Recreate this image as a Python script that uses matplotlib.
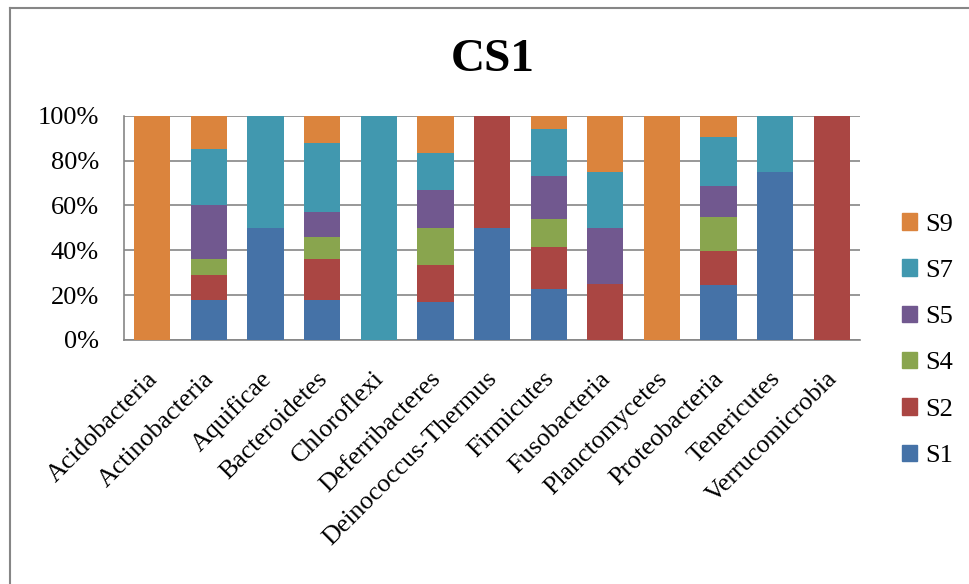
import matplotlib.pyplot as plt
import numpy as np
from matplotlib.lines import Line2D
from matplotlib.patches import Patch
from matplotlib.transforms import ScaledTranslation

categories = ["Acidobacteria", "Actinobacteria", "Aquificae", "Bacteroidetes",
              "Chloroflexi", "Deferribacteres", "Deinococcus-Thermus",
              "Firmicutes", "Fusobacteria", "Planctomycetes", "Proteobacteria",
              "Tenericutes", "Verrucomicrobia"]

s1 = [0, 18, 50, 18, 0, 16.7, 50, 22.5, 0, 0, 24.5, 75, 0]
s2 = [0, 11, 0, 18, 0, 16.7, 50, 19, 25, 0, 15, 0, 100]
s4 = [0, 7, 0, 10, 0, 16.6, 0, 12.5, 0, 0, 15.5, 0, 0]
s5 = [0, 24, 0, 11, 0, 16.7, 0, 19, 25, 0, 13.5, 0, 0]
s7 = [0, 25, 50, 31, 100, 16.7, 0, 21, 25, 0, 22, 25, 0]
s9 = [100, 15, 0, 12, 0, 16.6, 0, 6, 25, 100, 9.5, 0, 0]

series_names = ["S1", "S2", "S4", "S5", "S7", "S9"]
colors = ["#4572A7", "#AA4643", "#89A54E", "#71588F", "#4198AF", "#DB843D"]

plt.rcParams["font.family"] = ["Liberation Serif", "DejaVu Serif"]

fig = plt.figure(figsize=(9.69, 5.84), dpi=100)
ax = fig.add_axes([0.128, 0.418, 0.7595, 0.3836])

x = np.arange(len(categories))
bottom = np.zeros(len(categories))
for name, vals, c in zip(series_names, [s1, s2, s4, s5, s7, s9], colors):
    vals = np.array(vals, dtype=float)
    ax.bar(x, vals, width=0.64, bottom=bottom, color=c, label=name, zorder=3)
    bottom += vals

ax.set_xlim(-0.5, len(categories) - 0.5)
ax.set_ylim(0, 100)
ax.set_yticks(np.arange(0, 101, 20))
ax.set_yticklabels([f"{v}%" for v in range(0, 101, 20)], fontsize=19)
ax.yaxis.grid(True, color="#868686", linewidth=1.2, zorder=0)
ax.tick_params(axis="y", length=0, pad=18)
ax.tick_params(axis="x", length=0, pad=20)
ax.set_xticks(x)
ax.set_xticklabels(categories, rotation=45, ha="right", va="top",
                   rotation_mode="anchor", fontsize=18.7)
shift = ScaledTranslation(-0.06, 0, fig.dpi_scale_trans)
for lbl in ax.get_xticklabels():
    lbl.set_transform(lbl.get_transform() + shift)

for side in ["top", "right"]:
    ax.spines[side].set_visible(False)
for side in ["left", "bottom"]:
    ax.spines[side].set_color("#868686")
    ax.spines[side].set_linewidth(1.2)

fig.text(0.509, 0.898, "CS1", ha="center", va="center",
         fontsize=34, fontweight="bold")

handles = [Patch(color=c, label=n) for n, c in zip(series_names, colors)][::-1]
fig.legend(handles=handles, loc="upper left", bbox_to_anchor=(0.931, 0.635),
           frameon=False, fontsize=19, handlelength=0.58, handleheight=0.58,
           handletextpad=0.3, labelspacing=0.9, borderpad=0, borderaxespad=0)

# outer chart border
fig.add_artist(Line2D([10 / 969, 1], [1 - 7.5 / 584] * 2, color="#868686",
                      linewidth=1.5, transform=fig.transFigure))
fig.add_artist(Line2D([10 / 969] * 2, [0, 1 - 7.5 / 584], color="#868686",
                      linewidth=1.5, transform=fig.transFigure))

fig.savefig("out.png", dpi=100)
